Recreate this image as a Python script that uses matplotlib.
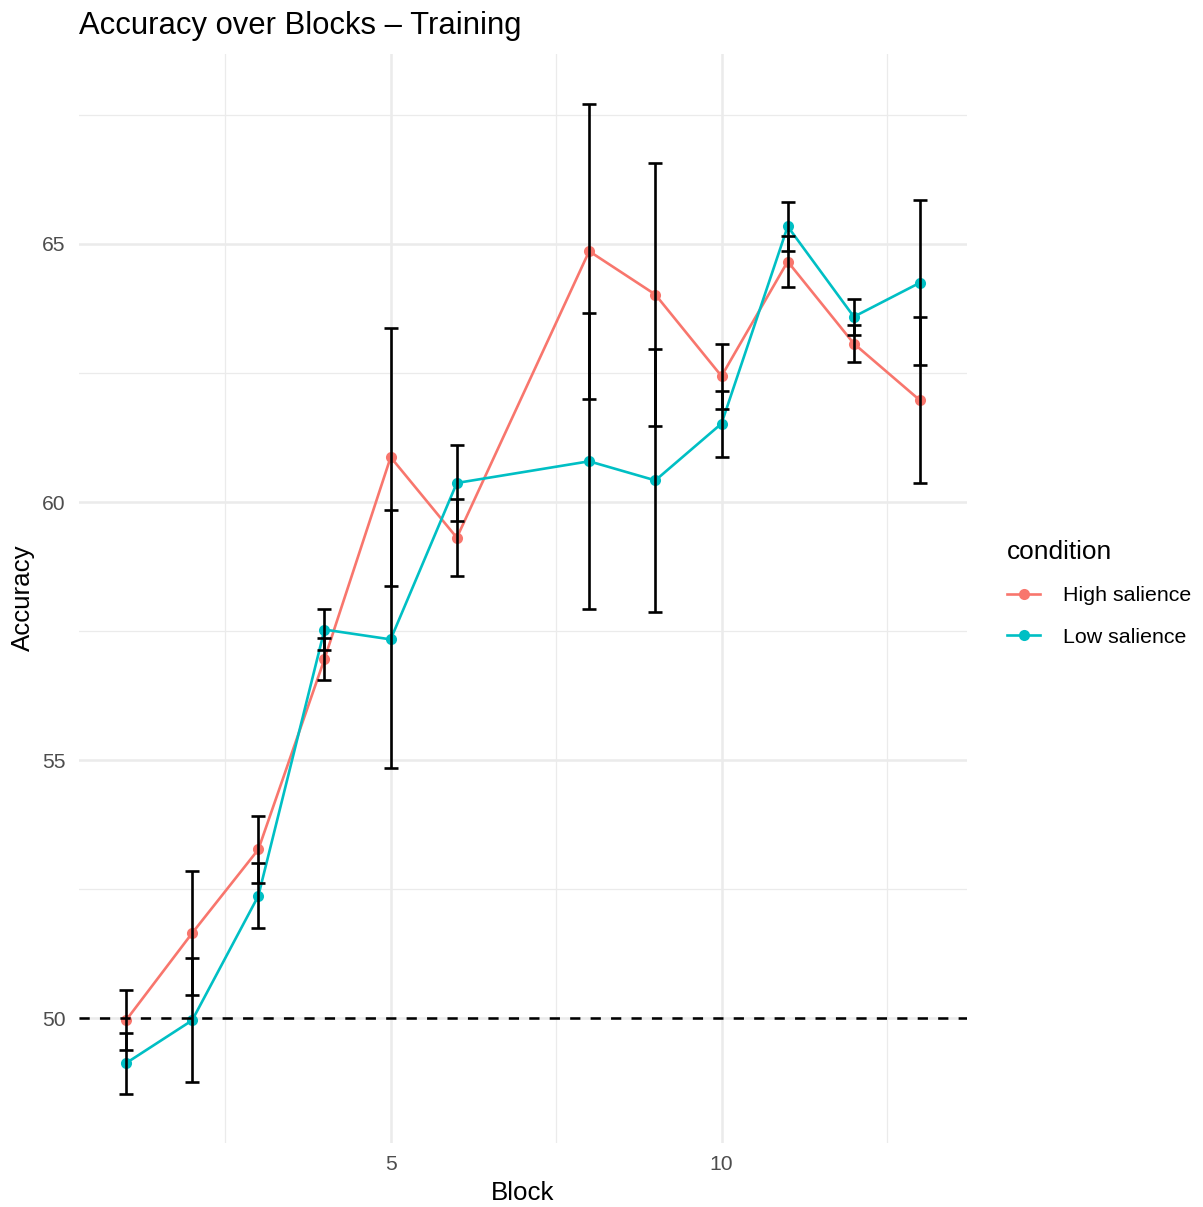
import matplotlib
matplotlib.use('Agg')
import matplotlib.pyplot as plt
from matplotlib.lines import Line2D
from matplotlib.ticker import FixedLocator

plt.rcParams['font.family'] = ['Liberation Sans', 'DejaVu Sans']

# data
blocks = [1, 2, 3, 4, 5, 6, 8, 9, 10, 11, 12, 13]
high_mean = [49.96, 51.65, 53.27, 56.96, 60.87, 59.31, 64.86, 64.02, 62.44, 64.66, 63.07, 61.97]
high_se = [0.58, 1.20, 0.64, 0.40, 2.50, 0.74, 2.86, 2.54, 0.63, 0.49, 0.36, 1.61]
low_mean = [49.13, 49.96, 52.37, 57.53, 57.34, 60.37, 60.79, 60.42, 61.52, 65.34, 63.59, 64.25]
low_se = [0.59, 1.20, 0.63, 0.40, 2.50, 0.73, 2.87, 2.54, 0.64, 0.47, 0.35, 1.60]
conditions = ['High salience', 'Low salience']
colors = ['#F8766D', '#00BFC4']
chance = 50

W, H = 1203, 1207
LW = 1.9
fig = plt.figure(figsize=(W / 100, H / 100), dpi=100)
ax = fig.add_axes([79 / W, 1 - 1142.7 / H, 888 / W, (1142.7 - 54) / H])

# ggplot-style grid (theme_minimal)
ax.set_xlim(0.29, 13.71)
ax.set_ylim(47.59, 68.68)
ax.xaxis.set_major_locator(FixedLocator([5, 10]))
ax.xaxis.set_minor_locator(FixedLocator([2.5, 7.5, 12.5]))
ax.yaxis.set_major_locator(FixedLocator([50, 55, 60, 65]))
ax.yaxis.set_minor_locator(FixedLocator([47.5, 52.5, 57.5, 62.5, 67.5]))
ax.grid(which='major', color='#EBEBEB', linewidth=1.84)
ax.grid(which='minor', color='#EBEBEB', linewidth=0.92)
ax.set_axisbelow(True)
for s in ax.spines.values():
    s.set_visible(False)
ax.tick_params(which='both', length=0)
ax.tick_params(axis='both', labelsize=15.2, labelcolor='#4D4D4D')
ax.tick_params(axis='x', pad=8.5)
ax.tick_params(axis='y', pad=9.5)

series = [(high_mean, high_se), (low_mean, low_se)]
handles = []
for (m, se), c, lab in zip(series, colors, conditions):
    ax.plot(blocks, m, color=c, linewidth=LW, zorder=2)
    ax.plot(blocks, m, 'o', color=c, markersize=8.0, markeredgewidth=0, zorder=3)
    handles.append(Line2D([], [], color=c, linewidth=LW, marker='o',
                          markersize=8.0, markeredgewidth=0, label=lab))
for (m, se) in series:
    ax.errorbar(blocks, m, yerr=se, fmt='none', ecolor='black', elinewidth=LW,
                capsize=4.75, capthick=LW, zorder=4)

ax.axhline(chance, color='black', linewidth=1.84, dashes=(4, 4), zorder=5)

# titles
fig.text(79 / W, 1 - 34.3 / H, 'Accuracy over Blocks \u2013 Training', fontsize=22.3,
         ha='left', va='baseline')
fig.text(523 / W, 1 - 1200 / H, 'Block', fontsize=18.6, ha='center', va='baseline')
fig.text(23 / W, 1 - 598 / H, 'Accuracy', fontsize=18.6, ha='center', va='center',
         rotation=90)

leg = fig.legend(handles=handles, title='condition', loc='upper left',
                 bbox_to_anchor=(1007 / W, 1 - 540 / H), frameon=False,
                 fontsize=15.4, title_fontsize=18.9, handlelength=1.55,
                 handletextpad=1.05, labelspacing=1.05, borderpad=0,
                 borderaxespad=0, alignment='left')

fig.savefig('out.png', dpi=100)
